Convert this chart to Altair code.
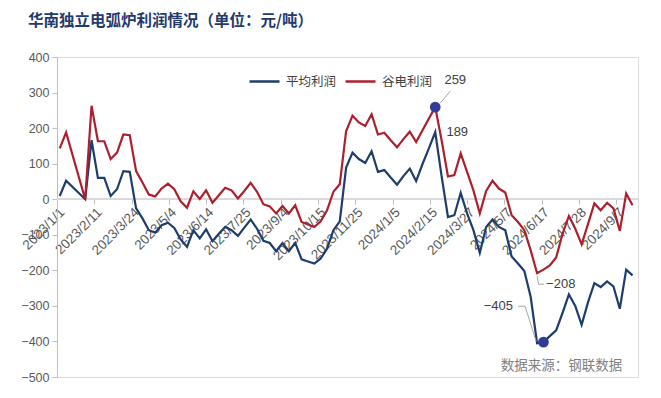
import altair as alt
import pandas as pd

# ---------------- data ----------------
# weekly observations (Wednesdays), two weeks missing around the 2023 Spring Festival
all_weeks = pd.date_range("2023-01-04", periods=91, freq="7D")
missing_weeks = [2, 3]
dates = [d for i, d in enumerate(all_weeks) if i not in missing_weeks]

avg_profit = [9, 52, 0, 166, 60, 60, 9, 28, 79, 77, -26, -54, -87, -94, -73, -66, -81,
              -113, -134, -87, -110, -85, -118, -97, -78, -87, -103, -80, -57, -83, -117,
              -123, -146, -123, -146, -123, -169, -175, -181, -167, -139, -87, -62, 89, 131,
              113, 102, 135, 77, 82, 61, 41, 65, 86, 51, 99, 143, 189, 65, -50, -45, 18,
              -40, -87, -151, -78, -57, -78, -87, -161, -181, -202, -275, -405, -402, -385,
              -369, -320, -268, -300, -353, -290, -236, -247, -231, -245, -308, -198, -214]
valley_profit = [143, 188, 0, 263, 163, 163, 113, 131, 182, 180, 79, 47, 13, 8, 30, 44, 28,
                 -6, -24, 22, 1, 25, -10, 11, 32, 25, 2, 23, 46, 21, -14, -20, -40, -19, -40,
                 -17, -64, -71, -78, -62, -31, 21, 42, 192, 235, 216, 206, 239, 182, 187, 166,
                 146, 169, 190, 161, 194, 227, 259, 166, 64, 68, 129, 77, 25, -40, 23, 52, 30,
                 19, -45, -64, -87, -144, -208, -198, -186, -164, -97, -47, -83, -127, -70, -12,
                 -31, -10, -26, -89, 16, -17]

series_names = ["平均利润", "谷电利润"]
tick_dates = [f"{d.year}/{d.month}/{d.day}" for d in pd.date_range("2023-01-01", periods=16, freq="41D")]
y_ticks = [-500, -400, -300, -200, -100, 0, 100, 200, 300, 400]

title_text = "华南独立电弧炉利润情况（单位：元/吨）"
source_text = "数据来源：钢联数据"

# annotated points (2024 peak and the lows)
peak_value_red = 259
peak_value_blue = 189
low_value_red = -208
low_value_blue = -405

# ---------------- tables ----------------
iso = [d.strftime("%Y-%m-%d") for d in dates]
df = pd.concat([
    pd.DataFrame({"date": iso, "value": avg_profit, "series": series_names[0]}),
    pd.DataFrame({"date": iso, "value": valley_profit, "series": series_names[1]}),
])

def row(idx, vals):
    return {"date": iso[idx], "value": vals[idx]}

i_peak = valley_profit.index(peak_value_red)
i_red_min = valley_profit.index(low_value_red)
i_blue_min = avg_profit.index(low_value_blue)

peak_red = pd.DataFrame([row(i_peak, valley_profit)])
peak_blue = pd.DataFrame([row(i_peak, avg_profit)])
min_red = pd.DataFrame([row(i_red_min, valley_profit)])
min_blue = pd.DataFrame([row(i_blue_min, avg_profit)])
dots = pd.DataFrame([row(i_peak, valley_profit), row(i_blue_min + 1, avg_profit)])
src = pd.DataFrame({"date": ["2024-07-09"], "value": [-468], "label": [source_text]})

BLUE = "#1D3D6D"
RED = "#AC1F2D"
DOT = "#323B96"
GREY = "#595959"
LEAD = "#A6A6A6"

W, H = 581, 320
zero_offset = -178

x_scale = alt.Scale(type="utc",
                    domain=[alt.DateTime(year=2023, month=1, date=1, utc=True),
                            alt.DateTime(year=2024, month=10, date=1, utc=True)])
y_scale = alt.Scale(domain=[-500, 400], nice=False, zero=False)

x_vals = [alt.DateTime(year=int(t.split("/")[0]), month=int(t.split("/")[1]),
                       date=int(t.split("/")[2]), utc=True) for t in tick_dates]

x_axis = alt.Axis(values=x_vals,
                  labelExpr="utcyear(datum.value) + '/' + (utcmonth(datum.value) + 1) + '/' + utcdate(datum.value)",
                  labelAngle=-45, offset=zero_offset, domain=False, grid=False,
                  tickColor="#BFBFBF", tickSize=5, labelColor=GREY, labelFontSize=13.5,
                  labelFont="Liberation Sans", labelPadding=1, labelOverlap=False,
                  labelFlush=False, labelBound=False, title=None)
y_axis = alt.Axis(values=y_ticks, grid=False, domainColor="#BFBFBF", tickColor="#BFBFBF",
                  tickSize=5, labelColor=GREY, labelFontSize=12.5, labelFont="Liberation Sans",
                  labelPadding=3, labelOverlap=False, labelFlush=False, title=None)

X = alt.X("date:T", scale=x_scale, axis=x_axis)
Y = alt.Y("value:Q", scale=y_scale, axis=y_axis)

zero = alt.Chart(df).mark_rule(color="#D9D9D9", strokeWidth=1).encode(
    y=alt.datum(0, scale=y_scale, axis=y_axis))

lines = alt.Chart(df).mark_line(strokeWidth=2.2).encode(
    x=X, y=Y,
    color=alt.Color("series:N",
                    scale=alt.Scale(domain=series_names, range=[BLUE, RED]),
                    sort=series_names,
                    legend=alt.Legend(orient="none", legendX=191, legendY=8, direction="horizontal",
                                      title=None, symbolType="stroke", symbolSize=900,
                                      symbolStrokeWidth=2.5, labelFontSize=12.5,
                                      labelFont="Noto Sans CJK SC", labelColor="#404040",
                                      columnPadding=3, labelOffset=5, padding=0)),
    order=alt.Order("date:T"),
)

dot_layer = alt.Chart(dots).mark_circle(size=115, color=DOT, opacity=1).encode(x=X, y=Y)

lab_kw = dict(font="Liberation Sans", fontSize=13, color="#404040", baseline="middle")

def rule(data, xo, yo, x2o, y2o):
    return alt.Chart(data).mark_rule(color=LEAD, strokeWidth=1, xOffset=xo, yOffset=yo,
                                     x2Offset=x2o, y2Offset=y2o).encode(
        x=X, x2="date:T", y=Y, y2="value:Q")

t259 = alt.Chart(peak_red).mark_text(align="center", dx=20, dy=-27, **lab_kw).encode(
    x=X, y=Y, text=alt.Text("value:Q", format="d"))
l259 = rule(peak_red, 5, -4, 15, -16)
t189 = alt.Chart(peak_blue).mark_text(align="center", dx=22, dy=0, **lab_kw).encode(
    x=X, y=Y, text=alt.Text("value:Q", format="d"))

t208 = alt.Chart(min_red).mark_text(align="left", dx=9, dy=11, **lab_kw).encode(
    x=X, y=Y, text=alt.Text("value:Q", format="d"))
l208a = rule(min_red, 0, 3, 1.5, 11)
l208b = rule(min_red, 1.5, 11, 7, 11)

t405 = alt.Chart(min_blue).mark_text(align="right", dx=-24, dy=-37, **lab_kw).encode(
    x=X, y=Y, text=alt.Text("value:Q", format="d"))
l405a = rule(min_blue, -19, -37, -12, -37)
l405b = rule(min_blue, -12, -37, -1, -2)

src_layer = alt.Chart(src).mark_text(font="Noto Sans CJK SC", fontSize=13.5, color="#808080",
                                     align="center", baseline="middle").encode(
    x=X, y=Y, text="label:N")

chart = alt.layer(zero, lines, l259, l208a, l208b, l405a, l405b, dot_layer,
                  t259, t189, t208, t405, src_layer).properties(
    width=W, height=H,
    title=alt.TitleParams(text=title_text, anchor="start", frame="group", dx=-29, offset=22,
                          fontSize=15.5, font="Noto Sans CJK SC", fontWeight="bold",
                          color="#1F3A6E"),
    autosize=alt.AutoSizeParams(type="none"),
    padding={"left": 49, "top": 49, "right": 10, "bottom": 10},
).configure_view(stroke=None).configure(background="white")

chart.save("out.html", embed_options={"renderer": "svg", "actions": False})
